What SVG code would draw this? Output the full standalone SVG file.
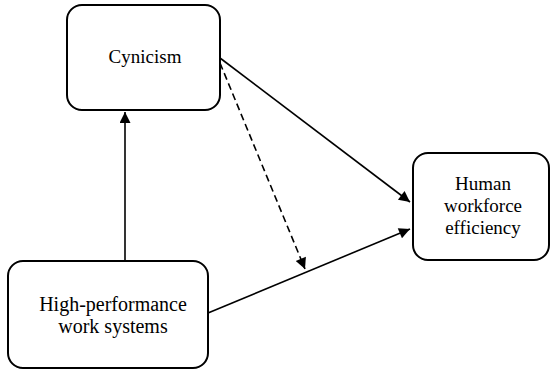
<svg xmlns="http://www.w3.org/2000/svg" width="550" height="372" viewBox="0 0 550 372">
<style>
.box{fill:#fff;stroke:#000;stroke-width:2}
.t{font-family:'Liberation Serif','Times New Roman',serif;font-size:19px;fill:#000;text-anchor:middle}
.ln{stroke:#000;stroke-width:1.6;fill:none}
</style>
<defs>
<marker id="ahb" viewBox="0 0 10 10" refX="10" refY="5" markerWidth="14" markerHeight="11" markerUnits="userSpaceOnUse" orient="auto">
<path d="M0,0 L10,5 L0,10 z" fill="#000"/>
</marker>
</defs>
<rect width="550" height="372" fill="#fff"/>
<g id="connectors">
<line class="ln" x1="125" y1="261" x2="125" y2="112" marker-end="url(#ahb)"/>
<line class="ln" x1="220" y1="58" x2="410" y2="202" marker-end="url(#ahb)"/>
<line class="ln" x1="208" y1="313" x2="410" y2="229" marker-end="url(#ahb)"/>
<line class="ln" x1="220" y1="63" x2="305" y2="269" stroke-dasharray="7,4" marker-end="url(#ahb)"/>
</g>
<g id="cynicism">
<rect class="box" x="67" y="5" width="153" height="105" rx="15"/>
<text class="t" x="145" y="63">Cynicism</text>
</g>
<g id="hpws">
<rect class="box" x="8" y="261" width="200" height="107" rx="15"/>
<text class="t" x="113" y="311" style="font-size:20px">High-performance</text>
<text class="t" x="113" y="333" style="font-size:20px">work systems</text>
</g>
<g id="hwe">
<rect class="box" x="413" y="153" width="136" height="107" rx="15"/>
<text class="t" x="483" y="190">Human</text>
<text class="t" x="483" y="212">workforce</text>
<text class="t" x="483" y="234">efficiency</text>
</g>
</svg>
